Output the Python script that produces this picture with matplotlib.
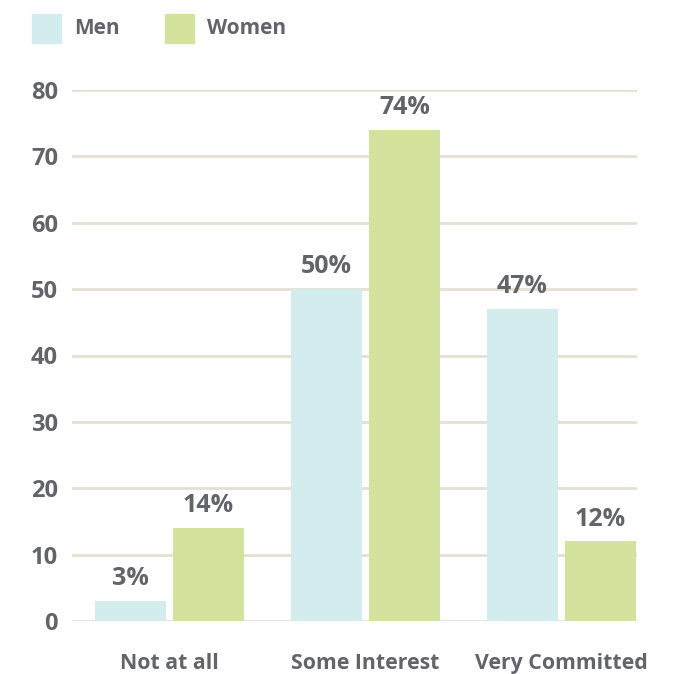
import matplotlib
matplotlib.use("Agg")
import matplotlib.pyplot as plt
from matplotlib.patches import Rectangle
import numpy as np

categories = ["Not at all", "Some Interest", "Very Committed"]
series_names = ["Men", "Women"]
men = [3, 50, 47]
women = [14, 74, 12]
yticks = [0, 10, 20, 30, 40, 50, 60, 70, 80]

MEN_COLOR = "#d3ecee"
WOMEN_COLOR = "#d3e29c"
TEXT_COLOR = "#636469"
GRID_COLOR = "#e6e0d2"
FONT = ["Open Sans", "DejaVu Sans"]

plt.rcParams["font.family"] = FONT

fig = plt.figure(figsize=(6.9, 6.74), dpi=100)
ax = fig.add_axes([72 / 690, 1 - 621 / 674, (637 - 72) / 690, (621 - 90) / 674])

x = np.arange(len(categories))
offset = 0.199
width = 0.362

bars_m = ax.bar(x - offset, men, width, color=MEN_COLOR, zorder=3)
bars_w = ax.bar(x + offset, women, width, color=WOMEN_COLOR, zorder=3)

for bars, vals in ((bars_m, men), (bars_w, women)):
    for b, v in zip(bars, vals):
        ax.annotate(f"{v}%", (b.get_x() + b.get_width() / 2, v),
                    xytext=(0, 7), textcoords="offset points",
                    ha="center", va="bottom", fontsize=18,
                    fontweight="bold", color=TEXT_COLOR)

ax.set_ylim(0, 80)
ax.set_xlim(-0.497, 2.385)
ax.set_yticks(yticks)
ax.set_yticklabels([str(t) for t in yticks], fontsize=17,
                   fontweight="bold", color=TEXT_COLOR)
ax.set_xticks(x)
ax.set_xticklabels(categories, fontsize=15.3, fontweight="bold", color=TEXT_COLOR)
ax.tick_params(axis="both", length=0)
ax.tick_params(axis="y", pad=10)
ax.tick_params(axis="x", pad=23)

ax.grid(axis="y", color=GRID_COLOR, linewidth=2, zorder=0)
ax.set_axisbelow(True)
for s in ax.spines.values():
    s.set_visible(False)

# legend drawn as squares with labels along the top
for (name, color, x0) in ((series_names[0], MEN_COLOR, 32), (series_names[1], WOMEN_COLOR, 165)):
    fig.patches.append(Rectangle((x0 / 690, 1 - 43 / 674), 29 / 690, 29 / 674,
                                 transform=fig.transFigure, color=color))
    fig.text((x0 + 42) / 690, 1 - 29 / 674, name, fontsize=15,
             fontweight="bold", color=TEXT_COLOR, va="center", ha="left")

fig.savefig("out.png", dpi=100)
